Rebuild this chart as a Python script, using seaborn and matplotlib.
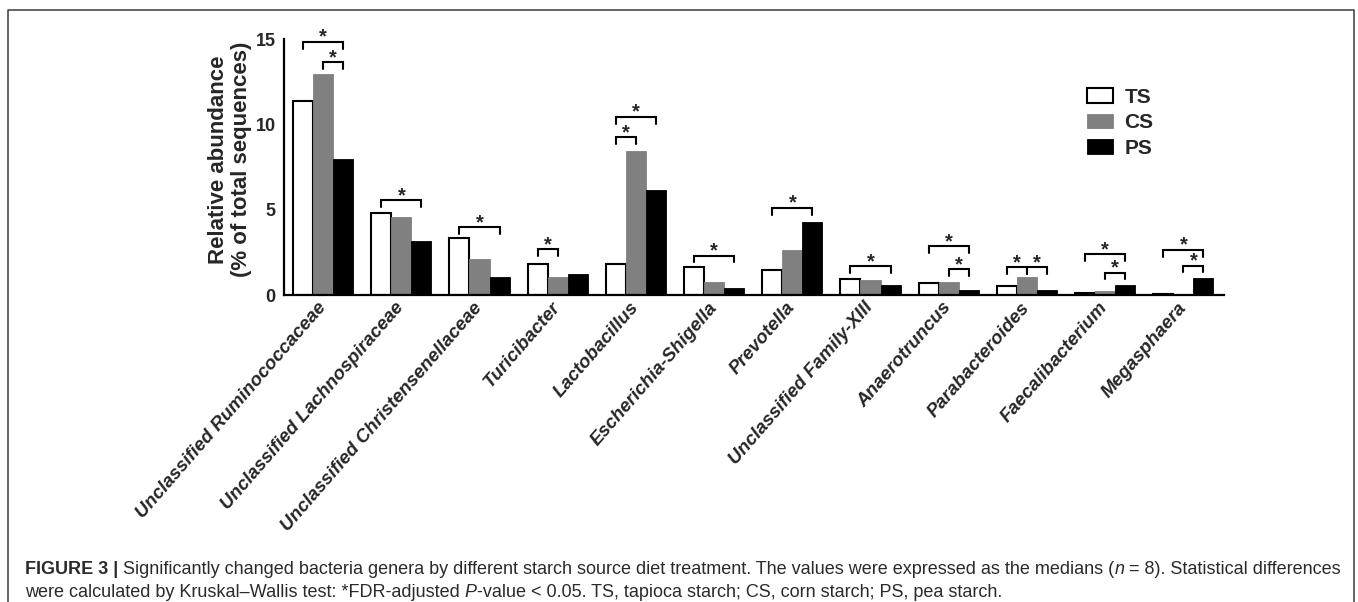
import numpy as np
import pandas as pd
import matplotlib
matplotlib.use("Agg")
import matplotlib.pyplot as plt
import seaborn as sns
from matplotlib.lines import Line2D
from matplotlib.patches import Rectangle

# ---- data -------------------------------------------------------------
genera = [
    "Unclassified Ruminococcaceae",
    "Unclassified Lachnospiraceae",
    "Unclassified Christensenellaceae",
    "Turicibacter",
    "Lactobacillus",
    "Escherichia-Shigella",
    "Prevotella",
    "Unclassified Family-XIII",
    "Anaerotruncus",
    "Parabacteroides",
    "Faecalibacterium",
    "Megasphaera",
]
treatments = ["TS", "CS", "PS"]

ts_values = [11.37, 4.79, 3.34, 1.84, 1.80, 1.64, 1.47, 0.92, 0.68, 0.55, 0.10, 0.05]
cs_values = [12.94, 4.55, 2.09, 1.07, 8.44, 0.76, 2.62, 0.90, 0.78, 1.07, 0.23, 0.02]
ps_values = [7.97, 3.14, 1.07, 1.23, 6.15, 0.43, 4.30, 0.57, 0.29, 0.29, 0.58, 1.01]

# significant pairwise comparisons: genus index, pair, bracket level
bracket_genus = [0, 0, 1, 2, 3, 4, 4, 5, 6, 7, 8, 8, 9, 9, 10, 10, 11, 11]
bracket_from = ["TS", "CS", "TS", "TS", "TS", "TS", "TS", "TS", "TS",
                "TS", "TS", "CS", "TS", "CS", "TS", "CS", "TS", "CS"]
bracket_to = ["PS", "PS", "PS", "PS", "CS", "PS", "CS", "PS", "PS",
              "PS", "PS", "PS", "CS", "PS", "PS", "PS", "PS", "PS"]
bracket_level = [14.85, 13.64, 5.57, 3.97, 2.68, 10.45, 9.24, 2.31, 5.12,
                 1.68, 2.87, 1.52, 1.62, 1.62, 2.38, 1.31, 2.65, 1.72]

y_ticks = [0, 5, 10, 15]

# ---- long-form table for seaborn ---------------------------------------
df = pd.DataFrame({
    "genus": genera * 3,
    "diet": np.repeat(treatments, len(genera)),
    "abundance": ts_values + cs_values + ps_values,
})

W, H = 1358, 602
sns.set_style("white")
plt.rcParams["font.family"] = ["Liberation Sans", "DejaVu Sans"]

fig = plt.figure(figsize=(W / 100, H / 100), dpi=100)
ax = fig.add_axes([284 / W, 1 - 295 / H, (1224 - 284) / W, (295 - 39.3) / H])

colors = {"TS": "#ffffff", "CS": "#808080", "PS": "#000000"}
edges = {"TS": "#000000", "CS": "#808080", "PS": "#000000"}

sns.barplot(data=df, x="genus", y="abundance", hue="diet",
            order=genera, hue_order=treatments, palette=colors,
            saturation=1, width=0.77, gap=0, edgecolor="black",
            linewidth=1.5, legend=False, ax=ax)

for cont, tr in zip(ax.containers, treatments):
    for bar in cont:
        bar.set_edgecolor(edges[tr])
        bar.set_linewidth(1.5 if tr == "TS" else 0.6)

ax.set_xlim(-0.5, 11.52)
ax.set_ylim(0, 15)
ax.set_yticks(y_ticks)
ax.set_xlabel("")
ax.set_ylabel("Relative abundance\n(% of total sequences)",
              fontsize=16, fontweight="bold", linespacing=1.1)
ax.yaxis.set_label_coords(-0.034, 0.53)

for side in ["top", "right"]:
    ax.spines[side].set_visible(False)
for side in ["left", "bottom"]:
    ax.spines[side].set_linewidth(1.6)
    ax.spines[side].set_color("black")

ax.tick_params(axis="both", direction="out", length=5, width=1.5,
               color="black")
ax.tick_params(axis="y", pad=1, labelsize=13)
ax.tick_params(axis="x", pad=2)
for lab in ax.get_yticklabels():
    lab.set_fontweight("bold")
for lab in ax.get_xticklabels():
    lab.set_rotation(49)
    lab.set_ha("right")
    lab.set_va("center")
    lab.set_rotation_mode("anchor")
    lab.set_fontsize(13.5)
    lab.set_fontweight("bold")
    lab.set_fontstyle("italic")

# ---- significance brackets ---------------------------------------------
def bar_center(genus_idx, diet):
    bar = ax.containers[treatments.index(diet)][genus_idx]
    return bar.get_x() + bar.get_width() / 2

leg = 0.4
for gi, a, b, lvl in zip(bracket_genus, bracket_from, bracket_to, bracket_level):
    x1, x2 = bar_center(gi, a), bar_center(gi, b)
    ax.add_line(Line2D([x1, x1, x2, x2], [lvl - leg, lvl, lvl, lvl - leg],
                       color="black", lw=1.5, clip_on=False,
                       solid_joinstyle="miter"))
    ax.text((x1 + x2) / 2, lvl - 0.05, "*", ha="center", va="baseline",
            fontsize=14.5, fontweight="bold", clip_on=False)

# ---- legend ---------------------------------------------------------------
handles = [Rectangle((0, 0), 1, 1, facecolor=colors[t], edgecolor=edges[t],
                     linewidth=1.5 if t == "TS" else 0.6) for t in treatments]
ax.legend(handles, treatments, loc="upper left",
          bbox_to_anchor=(1087 / W, 1 - 88 / H), bbox_transform=fig.transFigure,
          frameon=False, borderpad=0, borderaxespad=0,
          handlelength=1.25, handleheight=0.72,
          handletextpad=0.55, labelspacing=0.3,
          prop={"size": 15, "weight": "bold"})

# ---- panel frame ----------------------------------------------------------
def fx(px):
    return px / W


def fy(py):
    return 1 - py / H


fig.add_artist(Line2D([fx(8), fx(8), fx(1354), fx(1354)],
                      [fy(620), fy(9.5), fy(9.5), fy(620)],
                      transform=fig.transFigure, color="#3a3a3a", lw=1.1))

# ---- caption --------------------------------------------------------------
renderer = fig.canvas.get_renderer()


def run_width(s, size, style):
    # advance of a run, measured between two bars so edge kerning is ignored
    probe = fig.text(0, 0, "|" + s + "|", fontsize=size, **style)
    bars = fig.text(0, 0, "||", fontsize=size, **style)
    w = probe.get_window_extent(renderer).width - bars.get_window_extent(renderer).width
    probe.remove()
    bars.remove()
    return w


def draw_runs(x_px, y_px, runs, size, color):
    x = x_px
    for s, style in runs:
        fig.text(fx(x), fy(y_px), s, fontsize=size, color=color,
                 ha="left", va="baseline", **style)
        x += run_width(s, size, style)


bold = {"fontweight": "bold"}
plain = {}
ital = {"fontstyle": "italic"}
cap_size = 13.0
cap_color = "#2a2a2a"
draw_runs(25, 574, [
    ("FIGURE 3 | ", bold),
    ("Significantly changed bacteria genera by different starch source diet "
     "treatment. The values were expressed as the medians (", plain),
    ("n", ital),
    (" = 8). Statistical differences", plain),
], cap_size, cap_color)
draw_runs(25, 597, [
    ("were calculated by Kruskal\u2013Wallis test: *FDR-adjusted ", plain),
    ("P", ital),
    ("-value < 0.05. TS, tapioca starch; CS, corn starch; PS, pea starch.", plain),
], cap_size, cap_color)

fig.savefig("out.png", dpi=100)
